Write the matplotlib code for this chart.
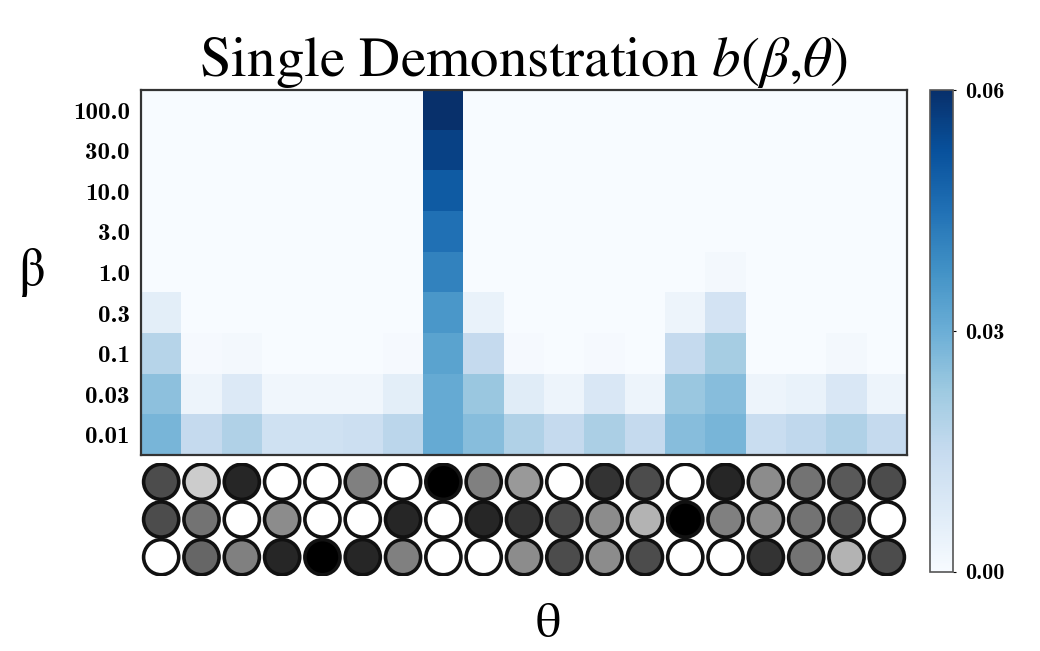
import numpy as np
import matplotlib
matplotlib.use("Agg")
import matplotlib.pyplot as plt

plt.rcParams['mathtext.fontset'] = 'stix'

# beta values (rows, top to bottom)
betas = ["100.0", "30.0", "10.0", "3.0", "1.0", "0.3", "0.1", "0.03", "0.01"]

# b(beta, theta) for each beta row, 19 theta columns
b_100 = [0, 0, 0, 0, 0, 0, 0, 0.060, 0, 0, 0, 0, 0, 0, 0, 0, 0, 0, 0]
b_30 = [0, 0, 0, 0, 0, 0, 0, 0.056, 0, 0, 0, 0, 0, 0, 0, 0, 0, 0, 0]
b_10 = [0, 0, 0, 0, 0, 0, 0, 0.050, 0, 0, 0, 0, 0, 0, 0, 0, 0, 0, 0]
b_3 = [0, 0, 0, 0, 0, 0, 0, 0.045, 0, 0, 0, 0, 0, 0, 0, 0, 0, 0, 0]
b_1 = [0, 0, 0, 0, 0, 0, 0, 0.041, 0, 0, 0, 0, 0, 0, 0.001, 0, 0, 0, 0]
b_03 = [0.006, 0, 0, 0, 0, 0, 0, 0.036, 0.004, 0, 0, 0, 0, 0.003, 0.011, 0, 0, 0, 0]
b_01 = [0.018, 0.0005, 0.001, 0, 0, 0, 0.0005, 0.033, 0.015, 0.0005, 0, 0.0005, 0,
        0.015, 0.021, 0, 0, 0.001, 0]
b_003 = [0.025, 0.003, 0.008, 0.002, 0.002, 0.002, 0.006, 0.031, 0.023, 0.007,
         0.003, 0.009, 0.003, 0.023, 0.026, 0.003, 0.004, 0.009, 0.003]
b_001 = [0.028, 0.015, 0.019, 0.012, 0.012, 0.013, 0.017, 0.031, 0.026, 0.019,
         0.015, 0.020, 0.015, 0.026, 0.028, 0.014, 0.016, 0.019, 0.015]

# grey level of the three features of each theta (0 black, 1 white)
feat_1 = [0.3, 0.8, 0.15, 1, 1, 0.5, 1, 0, 0.5, 0.6, 1, 0.2, 0.3, 1, 0.15, 0.55, 0.45, 0.35, 0.3]
feat_2 = [0.3, 0.45, 1, 0.55, 1, 1, 0.15, 1, 0.15, 0.2, 0.3, 0.55, 0.7, 0, 0.5, 0.55, 0.45, 0.35, 1]
feat_3 = [1, 0.4, 0.5, 0.15, 0, 0.15, 0.5, 1, 1, 0.55, 0.3, 0.55, 0.3, 1, 1, 0.2, 0.45, 0.7, 0.3]

grid = np.array([b_100, b_30, b_10, b_3, b_1, b_03, b_01, b_003, b_001])
feats = np.array([feat_1, feat_2, feat_3])
n_theta = grid.shape[1]

tickfont = ['cmb10', 'DejaVu Serif']

fig = plt.figure(figsize=(10.4, 6.51), dpi=100)

# heatmap
ax = fig.add_axes([0.1356, 0.3011, 0.7365, 0.5607])
im = ax.imshow(grid, cmap='Blues', vmin=0, vmax=0.06, aspect='auto',
               interpolation='nearest')
ax.set_xticks([])
ax.set_yticks(range(len(betas)))
ax.set_yticklabels(betas, family=tickfont, fontsize=18)
ax.tick_params(axis='y', length=0, pad=8)
for s in ax.spines.values():
    s.set_linewidth(1.6)
    s.set_color('#333333')
ax.set_ylabel('β', family='STIXGeneral', fontsize=38, rotation=0,
              labelpad=30, va='center')
ax.set_title(r'Single Demonstration $b(\beta{,}\theta)$', family='STIXGeneral',
             fontsize=41, pad=6)

# feature circles below heatmap
axc = fig.add_axes([0.1356, 0.1152, 0.7365, 0.1736])
xs, ys = np.meshgrid(np.arange(n_theta), np.arange(3))
axc.scatter(xs.ravel(), ys.ravel(), c=feats.ravel(), cmap='gray', vmin=0, vmax=1,
            s=640, edgecolors='#111111', linewidths=2.6)
axc.set_xlim(-0.5, n_theta - 0.5)
axc.set_ylim(2.5, -0.5)
axc.axis('off')
fig.text(0.527, 0.04, 'θ', family='STIXGeneral', fontsize=36, ha='center', va='center')

# colorbar
cax = fig.add_axes([0.894, 0.1214, 0.022, 0.740])
cb = fig.colorbar(im, cax=cax, ticks=[0, 0.03, 0.06])
cb.ax.set_yticklabels(['0.00', '0.03', '0.06'], family=tickfont, fontsize=16)
cb.ax.tick_params(length=2, pad=7)
cb.outline.set_edgecolor('#555555')
cb.outline.set_linewidth(1.2)

fig.savefig('out.png', dpi=100)
